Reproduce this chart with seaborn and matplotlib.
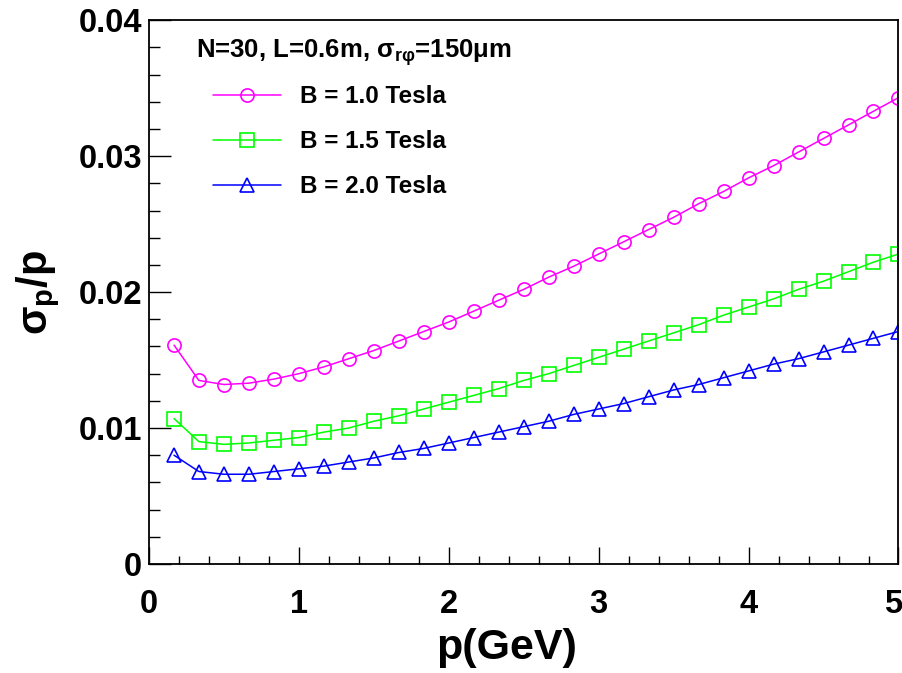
# plot.py
# Momentum resolution vs p for three magnetic field values (ROOT-style figure).
import matplotlib
matplotlib.use("Agg")
import matplotlib.pyplot as plt
import matplotlib.transforms as mtrans
import seaborn as sns
from matplotlib.ticker import MultipleLocator, FixedLocator, FixedFormatter


# momentum points (GeV)
p_gev = [0.167, 0.333, 0.500, 0.667, 0.833, 1.000, 1.167, 1.333, 1.500, 1.667,
         1.833, 2.000, 2.167, 2.333, 2.500, 2.667, 2.833, 3.000, 3.167, 3.333,
         3.500, 3.667, 3.833, 4.000, 4.167, 4.333, 4.500, 4.667, 4.833, 5.000]

# sigma_p / p
res_b10 = [0.0161, 0.0135, 0.0132, 0.0133, 0.0136, 0.0140, 0.0145, 0.0151, 0.0157, 0.0164,
           0.0171, 0.0178, 0.0186, 0.0194, 0.0202, 0.0211, 0.0219, 0.0228, 0.0237, 0.0246,
           0.0255, 0.0265, 0.0274, 0.0284, 0.0293, 0.0303, 0.0313, 0.0323, 0.0333, 0.0343]
res_b15 = [0.0107, 0.0090, 0.0088, 0.0089, 0.0091, 0.0093, 0.0097, 0.0100, 0.0105, 0.0109,
           0.0114, 0.0119, 0.0124, 0.0129, 0.0135, 0.0140, 0.0146, 0.0152, 0.0158, 0.0164,
           0.0170, 0.0176, 0.0183, 0.0189, 0.0195, 0.0202, 0.0208, 0.0215, 0.0222, 0.0228]
res_b20 = [0.0080, 0.0068, 0.0066, 0.0066, 0.0068, 0.0070, 0.0072, 0.0075, 0.0078, 0.0082,
           0.0085, 0.0089, 0.0093, 0.0097, 0.0101, 0.0105, 0.0110, 0.0114, 0.0118, 0.0123,
           0.0128, 0.0132, 0.0137, 0.0142, 0.0147, 0.0151, 0.0156, 0.0161, 0.0166, 0.0171]

series_labels = ["B = 1.0 Tesla", "B = 1.5 Tesla", "B = 2.0 Tesla"]
series_colors = ["#ff00ff", "#00ff00", "#0000ff"]
series_markers = ["o", "s", "^"]

x_ticks = [0, 1, 2, 3, 4, 5]
y_ticks = [0.0, 0.01, 0.02, 0.03, 0.04]
y_tick_labels = ["0", "0.01", "0.02", "0.03", "0.04"]

header = "N=30, L=0.6m, $σ_{rφ}$=150μm"


sns.set_style("white")
plt.rcParams['font.family'] = ['Liberation Sans', 'DejaVu Sans']
plt.rcParams['font.weight'] = 'bold'
plt.rcParams['text.color'] = 'black'
plt.rcParams['axes.labelcolor'] = 'black'
plt.rcParams['xtick.color'] = 'black'
plt.rcParams['ytick.color'] = 'black'
plt.rcParams['mathtext.fontset'] = 'custom'
plt.rcParams['mathtext.rm'] = 'Liberation Sans:bold'
plt.rcParams['mathtext.it'] = 'Liberation Sans:bold'
plt.rcParams['mathtext.bf'] = 'Liberation Sans:bold'
plt.rcParams['mathtext.default'] = 'rm'

fig = plt.figure(figsize=(9.03, 6.73), dpi=100)
ax = fig.add_axes([0.165, 0.162, 0.830, 0.808])

for ys, lab, col, mk in zip([res_b10, res_b15, res_b20], series_labels,
                            series_colors, series_markers):
    sns.lineplot(x=p_gev, y=ys, label=lab, color=col, marker=mk, ax=ax,
                 linewidth=1.1, markersize=9.5, markerfacecolor='none',
                 markeredgecolor=col, markeredgewidth=1.2)

ax.set_xlim(0, 5)
ax.set_ylim(0, 0.04)

# ticks inside, left/bottom only
ax.xaxis.set_major_locator(FixedLocator(x_ticks))
ax.xaxis.set_minor_locator(MultipleLocator(0.2))
ax.yaxis.set_major_locator(FixedLocator(y_ticks))
ax.yaxis.set_major_formatter(FixedFormatter(y_tick_labels))
ax.yaxis.set_minor_locator(MultipleLocator(0.002))
ax.tick_params(axis='both', which='both', direction='in', bottom=True, left=True,
               top=False, right=False, color='black', width=1.0)
ax.tick_params(axis='y', which='major', length=16, pad=5, labelsize=23.5)
ax.tick_params(axis='y', which='minor', length=8)
ax.tick_params(axis='x', which='major', length=12, pad=18, labelsize=23.5)
ax.tick_params(axis='x', which='minor', length=6)
for lab in ax.get_xticklabels() + ax.get_yticklabels():
    lab.set_fontweight('bold')
# keep the last x label inside the canvas
last = ax.get_xticklabels()[-1]
last.set_transform(last.get_transform() +
                   mtrans.ScaledTranslation(-5 / 100, 0, fig.dpi_scale_trans))

for sp in ax.spines.values():
    sp.set_visible(True)
    sp.set_color('black')
    sp.set_linewidth(1.3)

ax.set_xlabel("p(GeV)", fontsize=31, fontweight='bold')
ax.xaxis.set_label_coords(0.477, -0.118)
ax.set_ylabel("$σ_{p}$/p", fontsize=30, fontweight='bold', labelpad=12)

ax.text(0.063, 0.941, header, transform=ax.transAxes, fontsize=18.5,
        fontweight='bold', va='center', ha='left')
ax.legend(loc='upper left', bbox_to_anchor=(0.0857, 0.880), frameon=False,
          handlelength=2.8, handletextpad=0.75, labelspacing=0.9,
          borderpad=0, borderaxespad=0, prop={'weight': 'bold', 'size': 17.5})

fig.savefig("out.png", dpi=100)
